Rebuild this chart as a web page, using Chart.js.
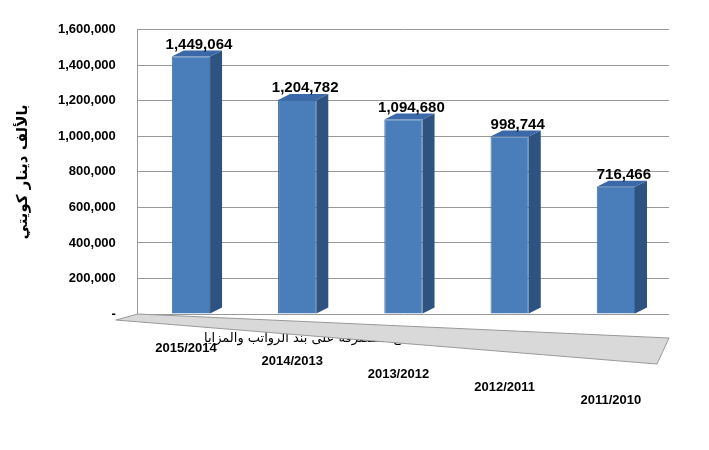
<!DOCTYPE html>
<html>
<head>
<meta charset="utf-8">
<script src="https://cdn.jsdelivr.net/npm/chart.js@4/dist/chart.umd.min.js"></script>
<style>
  body { margin: 0; background: #fff; }
  #wrap { width: 709px; height: 450px; position: relative; }
</style>
</head>
<body>
<div id="wrap"><canvas id="chart"></canvas></div>
<script>
// years and amounts (thousand KWD)
const years = ["2015/2014", "2014/2013", "2013/2012", "2012/2011", "2011/2010"];
const amounts = [1449064, 1204782, 1094680, 998744, 716466];
const seriesName = "تطور المبالغ المنصرفة على بند الرواتب والمزايا";
const axisTitle = "بالألف دينار كويتي";

// fake 3d: side + top faces, a grey floor and staggered year labels
const depthPlugin = {
  id: "depth",
  beforeDatasetsDraw(chart) {
    const { ctx, chartArea: a } = chart;
    ctx.save();
    ctx.fillStyle = "#d9d9d9";
    ctx.strokeStyle = "#999";
    ctx.beginPath();
    ctx.moveTo(a.left, a.bottom);
    ctx.lineTo(a.right, a.bottom + 24);
    ctx.lineTo(a.right - 12, a.bottom + 50);
    ctx.lineTo(a.left - 22, a.bottom + 6);
    ctx.closePath();
    ctx.fill();
    ctx.stroke();
    ctx.restore();
  },
  afterDatasetsDraw(chart) {
    const { ctx, chartArea: a } = chart;
    const d = 12;
    ctx.save();
    chart.getDatasetMeta(0).data.forEach((bar, i) => {
      const p = bar.getProps(["x", "y", "base", "width"], true);
      const r = p.x + p.width / 2, l = p.x - p.width / 2;
      ctx.fillStyle = "#2f5381";
      ctx.beginPath();
      ctx.moveTo(r, p.y); ctx.lineTo(r + d, p.y - 6);
      ctx.lineTo(r + d, p.base - 6); ctx.lineTo(r, p.base);
      ctx.closePath(); ctx.fill();
      ctx.fillStyle = "#3a68a8";
      ctx.beginPath();
      ctx.moveTo(l, p.y); ctx.lineTo(l + d, p.y - 6);
      ctx.lineTo(r + d, p.y - 6); ctx.lineTo(r, p.y);
      ctx.closePath(); ctx.fill();
      ctx.fillStyle = "#000";
      ctx.font = "bold 15px 'Liberation Sans', Arial";
      ctx.textAlign = "center";
      ctx.fillText(amounts[i].toLocaleString("en-US"), p.x + 8, p.y - 12);
      ctx.font = "bold 13px 'Liberation Sans', Arial";
      ctx.fillText(years[i], p.x - 5, a.bottom + 34 + i * 13);
    });
    ctx.restore();
  }
};

new Chart(document.getElementById("chart"), {
  type: "bar",
  data: {
    labels: years,
    datasets: [{
      label: seriesName,
      data: amounts,
      backgroundColor: "#4a7ebb",
      borderColor: "#3d6ca3",
      borderWidth: 1,
      barPercentage: 0.45
    }]
  },
  plugins: [depthPlugin],
  options: {
    responsive: true,
    maintainAspectRatio: false,
    animation: false,
    layout: { padding: { left: 10, right: 40, top: 28, bottom: 95 } },
    scales: {
      y: {
        min: 0, max: 1600000,
        ticks: {
          stepSize: 200000,
          color: "#000", padding: 22,
          font: { family: "Liberation Sans", size: 13, weight: "bold" },
          callback: v => v === 0 ? "-" : v.toLocaleString("en-US")
        },
        grid: { color: "#999", drawTicks: false },
        border: { display: true, color: "#999" },
        title: {
          display: true, text: axisTitle, color: "#000",
          font: { family: "DejaVu Sans", size: 15, weight: "bold" }
        }
      },
      x: {
        grid: { display: false },
        border: { display: false },
        ticks: { display: false }
      }
    },
    plugins: {
      legend: {
        position: "bottom",
        rtl: true,
        labels: {
          color: "#000", boxWidth: 10, boxHeight: 10,
          font: { family: "DejaVu Sans", size: 13 }
        }
      },
      tooltip: { enabled: false }
    }
  }
});
</script>
</body>
</html>
